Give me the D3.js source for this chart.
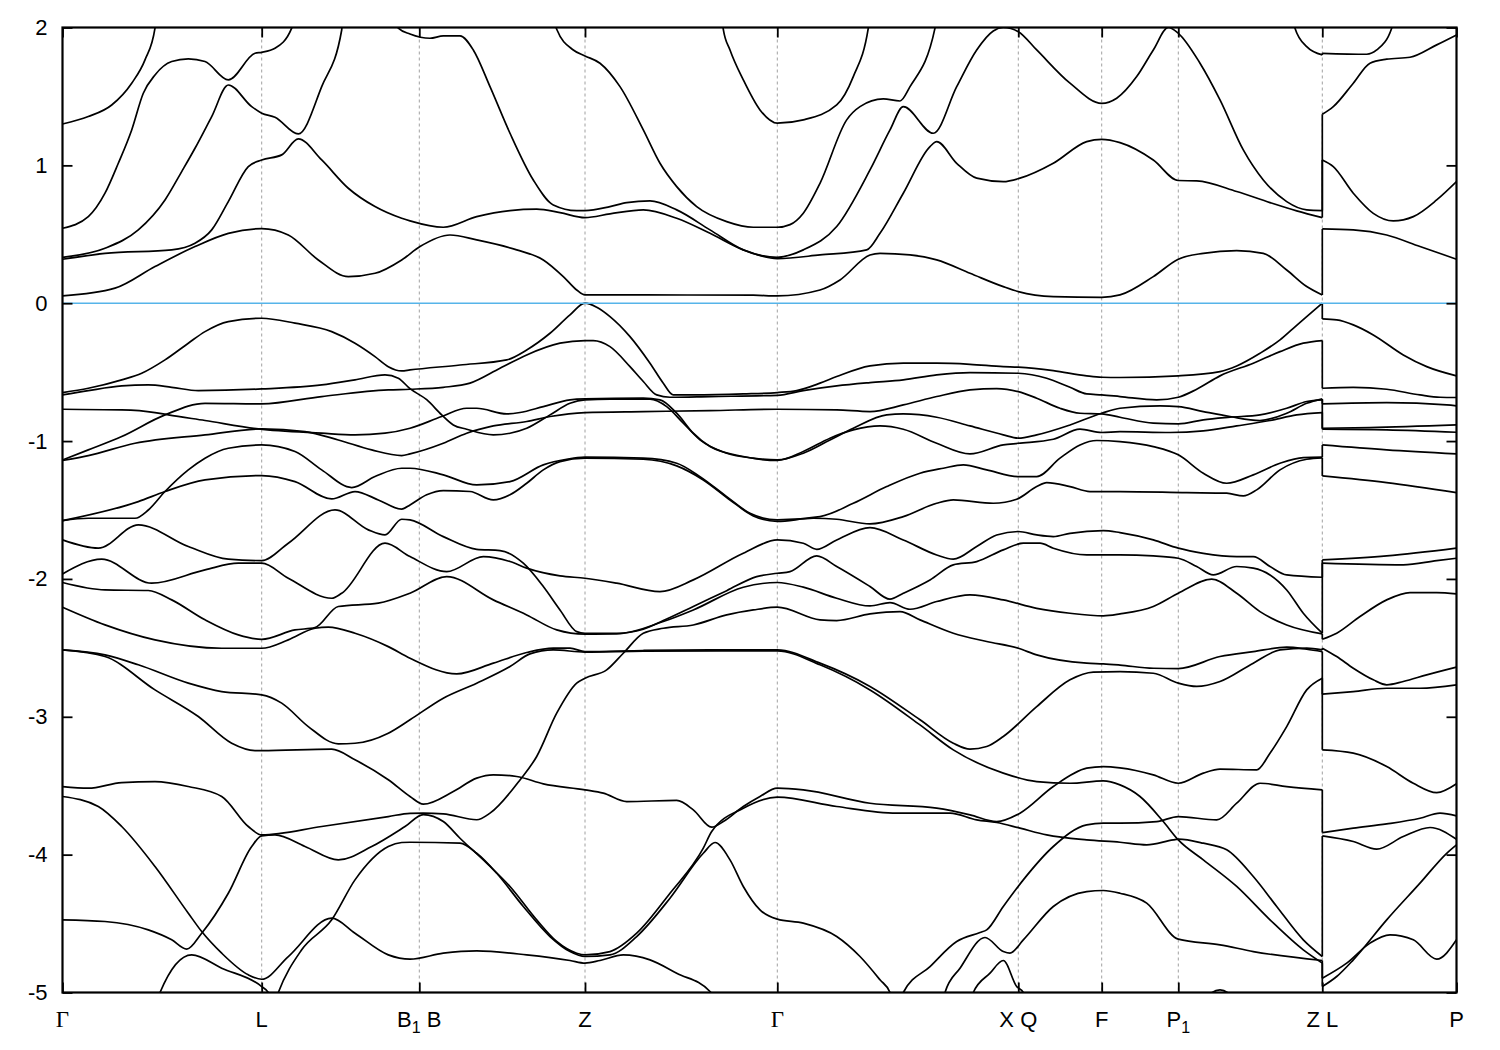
<!DOCTYPE html>
<html><head><meta charset="utf-8">
<script src="https://cdn.jsdelivr.net/npm/d3@7"></script>
<style>body{margin:0;background:#fff}</style>
</head><body><svg id="chart" width="1500" height="1050"></svg>
<script>
// ---- k-path ticks and labels ----
const kTicks = [0, 1.992, 3.568, 5.225, 7.148, 9.558, 10.392, 11.158, 12.598, 13.94];
const kLabels = ["Γ", "L", "B_1 B", "Z", "Γ", "X Q", "F", "P_1", "Z L", "P"];
const eTicks = [-5, -4, -3, -2, -1, 0, 1, 2];

// ---- conduction bands [k, E(eV)] ----
const cb1 = [[0,0.053],[0.525,0.109],[0.925,0.266],[1.325,0.411],[1.658,0.507],[1.992,0.541],[2.258,0.495],[2.558,0.314],[2.858,0.193],[3.125,0.217],[3.392,0.314],[3.575,0.411],[3.875,0.495],[4.142,0.459],[4.542,0.387],[4.808,0.314],[5.008,0.193],[5.142,0.096],[5.225,0.06],[5.808,0.06],[6.908,0.058],[7.148,0.053],[7.575,0.096],[7.775,0.169],[8.075,0.35],[8.175,0.362],[8.475,0.35],[8.742,0.314],[9.075,0.217],[9.408,0.12],[9.558,0.084],[9.908,0.048],[10.392,0.043],[10.575,0.06],[10.908,0.193],[11.158,0.319],[11.408,0.362],[11.742,0.382],[12.008,0.362],[12.242,0.241],[12.442,0.121],[12.598,0.06],[12.598,0.539],[12.908,0.532],[13.242,0.495],[13.575,0.411],[13.94,0.319]];
const cb2 = [[0,0.319],[0.425,0.362],[1.092,0.387],[1.325,0.435],[1.492,0.532],[1.658,0.737],[1.858,0.991],[1.992,1.039],[2.192,1.076],[2.358,1.192],[2.592,1.039],[2.858,0.834],[3.125,0.701],[3.392,0.616],[3.475,0.597],[3.808,0.551],[4.142,0.628],[4.475,0.672],[4.742,0.682],[4.975,0.657],[5.225,0.621],[5.475,0.648],[5.808,0.677],[6.142,0.616],[6.475,0.507],[6.808,0.387],[7.148,0.324],[7.575,0.35],[8.042,0.387],[8.175,0.507],[8.408,0.798],[8.675,1.136],[8.742,1.172],[8.942,1.015],[9.142,0.907],[9.408,0.882],[9.575,0.907],[9.908,1.015],[10.242,1.172],[10.392,1.189],[10.575,1.165],[10.908,1.039],[11.158,0.89],[11.342,0.887],[11.742,0.81],[12.075,0.73],[12.342,0.67],[12.598,0.621],[12.598,1.039],[12.708,0.991],[12.908,0.798],[13.108,0.652],[13.308,0.597],[13.508,0.628],[13.742,0.749],[13.94,0.882]];
const cb3 = [[3.30,2.1],[3.358,1.995],[3.475,1.953],[3.675,1.922],[3.808,1.939],[3.975,1.939],[4.108,1.837],[4.275,1.571],[4.475,1.233],[4.708,0.894],[4.908,0.713],[5.142,0.672],[5.225,0.672],[5.475,0.701],[5.642,0.73],[5.875,0.742],[6.142,0.677],[6.475,0.532],[6.808,0.387],[7.148,0.333],[7.408,0.387],[7.742,0.556],[8.075,0.967],[8.275,1.257],[8.408,1.426],[8.708,1.233],[8.942,1.571],[9.142,1.837],[9.308,1.975],[9.408,2.0],[9.558,1.97],[9.742,1.837],[10.075,1.596],[10.392,1.45],[10.542,1.487],[10.742,1.644],[10.908,1.837],[11.058,2.0],[11.158,1.958],[11.375,1.741],[11.575,1.475],[11.808,1.112],[12.008,0.894],[12.242,0.737],[12.442,0.677],[12.598,0.672],[12.598,1.371],[12.708,1.426],[12.908,1.596],[13.075,1.741],[13.242,1.77],[13.475,1.784],[13.742,1.874],[13.94,1.946]];
const cb4 = [[4.90,2.1],[4.942,1.987],[5.108,1.837],[5.225,1.794],[5.375,1.741],[5.575,1.571],[5.808,1.257],[5.975,1.015],[6.142,0.846],[6.342,0.701],[6.642,0.592],[6.908,0.551],[7.148,0.551],[7.275,0.57],[7.408,0.653],[7.575,0.87],[7.842,1.33],[7.975,1.426],[8.208,1.482],[8.375,1.467],[8.475,1.571],[8.725,1.995],[8.75,2.1]];
const cb5 = [[6.59,2.1],[6.608,1.987],[6.675,1.837],[6.808,1.62],[6.975,1.402],[7.148,1.306],[7.408,1.33],[7.742,1.438],[7.908,1.644],[8.058,1.995],[8.08,2.1]];
const cb6 = [[0,1.30],[0.258,1.354],[0.492,1.438],[0.692,1.596],[0.825,1.765],[0.925,1.995],[0.94,2.1]];
const cb7 = [[0,0.544],[0.258,0.628],[0.425,0.798],[0.558,1.015],[0.692,1.257],[0.808,1.523],[0.925,1.656],[1.092,1.753],[1.258,1.772],[1.425,1.753],[1.658,1.62],[1.925,1.813],[1.992,1.82],[2.125,1.849],[2.292,1.995],[2.32,2.1]];
const cb8 = [[0,0.333],[0.425,0.399],[0.758,0.532],[1.025,0.749],[1.192,0.955],[1.325,1.124],[1.492,1.354],[1.658,1.583],[1.892,1.426],[1.992,1.378],[2.125,1.349],[2.358,1.228],[2.592,1.571],[2.792,1.982],[2.80,2.1]];
const cb9 = [[12.30,2.1],[12.325,1.995],[12.442,1.861],[12.598,1.801],[12.598,1.813],[13.042,1.806],[13.142,1.837],[13.292,1.995],[13.31,2.1]];

// ---- valence bands ----
const vb1 = [[0,-0.648],[0.258,-0.617],[0.592,-0.556],[0.792,-0.508],[1.025,-0.411],[1.258,-0.29],[1.425,-0.206],[1.658,-0.133],[1.992,-0.109],[2.325,-0.145],[2.692,-0.206],[2.925,-0.29],[3.125,-0.387],[3.258,-0.46],[3.392,-0.491],[3.475,-0.484],[3.975,-0.448],[4.442,-0.411],[4.642,-0.339],[4.875,-0.218],[5.075,-0.085],[5.225,0],[5.342,-0.029],[5.475,-0.097],[5.675,-0.242],[5.875,-0.435],[6.008,-0.58],[6.108,-0.665],[6.308,-0.665],[6.808,-0.658],[7.148,-0.648],[7.342,-0.634],[7.575,-0.58],[7.742,-0.532],[8.075,-0.455],[8.408,-0.435],[8.742,-0.435],[9.075,-0.443],[9.408,-0.46],[9.558,-0.464],[9.908,-0.489],[10.242,-0.527],[10.392,-0.537],[10.575,-0.539],[11.158,-0.527],[11.575,-0.496],[11.742,-0.455],[11.975,-0.363],[12.175,-0.266],[12.308,-0.182],[12.442,-0.097],[12.598,0],[12.598,-0.114],[12.742,-0.121],[12.908,-0.157],[13.108,-0.23],[13.408,-0.375],[13.642,-0.46],[13.94,-0.527]];
const vb2 = [[0,-1.137],[0.258,-1.064],[0.592,-0.967],[1.025,-0.81],[1.425,-0.726],[1.992,-0.73],[2.592,-0.677],[3.258,-0.629],[3.475,-0.624],[3.808,-0.61],[4.075,-0.58],[4.375,-0.472],[4.642,-0.375],[4.975,-0.29],[5.225,-0.271],[5.308,-0.271],[5.475,-0.315],[5.675,-0.46],[5.808,-0.568],[5.942,-0.665],[6.075,-0.682],[6.475,-0.677],[7.148,-0.668],[7.408,-0.634],[7.742,-0.6],[8.075,-0.576],[8.408,-0.556],[8.742,-0.52],[9.075,-0.503],[9.558,-0.508],[9.842,-0.544],[10.075,-0.61],[10.242,-0.658],[10.392,-0.665],[10.575,-0.677],[10.942,-0.701],[11.158,-0.682],[11.342,-0.624],[11.575,-0.527],[11.908,-0.435],[12.175,-0.351],[12.408,-0.29],[12.598,-0.271],[12.598,-0.617],[12.908,-0.61],[13.242,-0.624],[13.575,-0.665],[13.775,-0.682],[13.94,-0.684]];
const vb3 = [[0,-0.665],[0.258,-0.634],[0.592,-0.6],[0.858,-0.593],[1.092,-0.61],[1.358,-0.634],[1.992,-0.622],[2.592,-0.593],[2.925,-0.556],[3.225,-0.52],[3.358,-0.544],[3.475,-0.62],[3.642,-0.70],[3.792,-0.81],[3.908,-0.883],[4.042,-0.914],[4.308,-0.955],[4.475,-0.943],[4.642,-0.907],[4.875,-0.81],[5.075,-0.726],[5.225,-0.701],[5.475,-0.696],[5.875,-0.696],[6.042,-0.75],[6.208,-0.87],[6.375,-0.991],[6.642,-1.088],[6.908,-1.124],[7.148,-1.137],[7.408,-1.088],[7.675,-0.992],[7.908,-0.907],[8.242,-0.81],[8.408,-0.803],[8.742,-0.827],[9.075,-0.89],[9.408,-0.955],[9.558,-0.979],[9.742,-0.955],[10.075,-0.883],[10.392,-0.798],[10.575,-0.762],[10.975,-0.745],[11.158,-0.75],[11.408,-0.786],[11.675,-0.822],[11.975,-0.851],[12.242,-0.798],[12.442,-0.726],[12.598,-0.694],[12.598,-0.73],[13.242,-0.721],[13.842,-0.738],[13.94,-0.745]];
const vb4 = [[0,-0.769],[0.592,-0.774],[0.925,-0.793],[1.058,-0.81],[1.425,-0.851],[1.958,-0.912],[2.592,-0.943],[2.925,-0.955],[3.225,-0.943],[3.475,-0.907],[3.792,-0.822],[4.042,-0.762],[4.142,-0.762],[4.442,-0.803],[4.575,-0.793],[4.808,-0.75],[5.075,-0.701],[5.225,-0.694],[5.808,-0.689],[5.975,-0.701],[6.142,-0.798],[6.308,-0.943],[6.475,-1.04],[6.808,-1.112],[7.148,-1.141],[7.408,-1.076],[7.675,-0.979],[7.908,-0.919],[8.175,-0.89],[8.408,-0.914],[8.742,-1.016],[9.075,-1.093],[9.408,-1.028],[9.558,-1.016],[9.908,-0.987],[10.175,-0.914],[10.392,-0.938],[10.575,-0.931],[11.075,-0.938],[11.408,-0.926],[11.742,-0.89],[12.075,-0.851],[12.342,-0.81],[12.598,-0.793],[12.598,-0.914],[13.242,-0.919],[13.94,-0.936]];
const vb5 = [[0,-1.141],[0.258,-1.105],[0.725,-1.016],[1.425,-0.955],[1.992,-0.912],[2.425,-0.931],[2.758,-0.992],[3.092,-1.064],[3.392,-1.105],[3.475,-1.093],[3.808,-1.016],[4.042,-0.943],[4.308,-0.89],[4.642,-0.858],[4.875,-0.822],[5.225,-0.793],[5.808,-0.786],[6.475,-0.779],[7.148,-0.769],[7.742,-0.774],[8.075,-0.786],[8.408,-0.738],[8.742,-0.677],[9.075,-0.629],[9.342,-0.619],[9.558,-0.641],[9.742,-0.689],[9.975,-0.762],[10.175,-0.798],[10.392,-0.803],[10.575,-0.827],[10.908,-0.87],[11.158,-0.875],[11.408,-0.846],[11.675,-0.827],[11.975,-0.81],[12.242,-0.762],[12.442,-0.713],[12.598,-0.701],[12.598,-0.907],[13.075,-0.902],[13.94,-0.883]];
const vb6 = [[0,-1.577],[0.258,-1.56],[0.725,-1.56],[0.858,-1.5],[1.025,-1.366],[1.258,-1.209],[1.425,-1.124],[1.658,-1.052],[1.992,-1.028],[2.325,-1.076],[2.592,-1.209],[2.892,-1.337],[3.125,-1.257],[3.392,-1.197],[3.475,-1.197],[3.808,-1.245],[4.142,-1.318],[4.475,-1.294],[4.808,-1.173],[5.042,-1.132],[5.225,-1.117],[5.808,-1.124],[6.142,-1.161],[6.375,-1.258],[6.642,-1.403],[6.875,-1.524],[7.148,-1.572],[7.575,-1.548],[7.908,-1.451],[8.242,-1.33],[8.575,-1.233],[8.808,-1.197],[9.008,-1.173],[9.242,-1.209],[9.558,-1.258],[9.742,-1.258],[9.975,-1.124],[10.175,-1.028],[10.342,-0.996],[10.575,-1.004],[10.908,-1.04],[11.158,-1.1],[11.408,-1.233],[11.642,-1.306],[11.908,-1.245],[12.175,-1.161],[12.408,-1.12],[12.598,-1.117],[12.598,-1.028],[13.242,-1.064],[13.94,-1.093]];
const vb7 = [[0,-1.577],[0.758,-1.439],[1.025,-1.366],[1.425,-1.282],[1.992,-1.25],[2.325,-1.294],[2.692,-1.42],[2.925,-1.366],[3.158,-1.427],[3.392,-1.494],[3.475,-1.463],[3.642,-1.39],[3.808,-1.359],[4.075,-1.366],[4.308,-1.427],[4.475,-1.39],[4.642,-1.306],[4.808,-1.209],[4.975,-1.149],[5.225,-1.124],[5.808,-1.132],[6.142,-1.18],[6.408,-1.282],[6.675,-1.427],[6.908,-1.543],[7.148,-1.582],[7.508,-1.56],[7.742,-1.567],[8.075,-1.601],[8.408,-1.548],[8.742,-1.451],[8.908,-1.427],[9.308,-1.451],[9.542,-1.422],[9.742,-1.33],[9.842,-1.301],[10.075,-1.33],[10.275,-1.366],[10.575,-1.366],[11.242,-1.374],[11.642,-1.378],[11.808,-1.398],[11.942,-1.354],[12.175,-1.209],[12.442,-1.132],[12.598,-1.122],[12.598,-1.253],[13.242,-1.301],[13.94,-1.374]];
const vb8 = [[0,-1.717],[0.358,-1.777],[0.758,-1.608],[1.258,-1.765],[1.658,-1.857],[1.992,-1.867],[2.258,-1.741],[2.725,-1.499],[3.058,-1.644],[3.225,-1.681],[3.392,-1.567],[3.475,-1.572],[3.808,-1.693],[4.142,-1.785],[4.375,-1.794],[4.608,-1.886],[4.808,-2.055],[4.975,-2.225],[5.142,-2.382],[5.225,-2.394],[5.542,-2.394],[5.808,-2.365],[6.008,-2.302],[6.308,-2.2],[6.642,-2.085],[6.942,-1.983],[7.148,-1.959],[7.275,-1.947],[7.542,-1.833],[7.742,-1.91],[8.075,-2.055],[8.275,-2.147],[8.408,-2.104],[8.675,-2.007],[8.908,-1.898],[9.142,-1.874],[9.408,-1.789],[9.608,-1.741],[9.775,-1.741],[9.908,-1.777],[10.242,-1.826],[10.575,-1.826],[10.908,-1.833],[11.158,-1.85],[11.342,-1.91],[11.508,-1.971],[11.742,-1.91],[11.908,-1.922],[12.075,-1.971],[12.242,-2.08],[12.408,-2.249],[12.598,-2.394],[12.598,-1.886],[13.408,-1.898],[13.742,-1.867],[13.94,-1.85]];
const vb9 = [[0,-1.964],[0.392,-1.857],[0.892,-2.031],[1.425,-1.934],[1.758,-1.886],[1.992,-1.886],[2.258,-1.995],[2.692,-2.14],[2.792,-2.104],[3.225,-1.741],[3.475,-1.838],[3.842,-1.947],[4.208,-1.838],[4.475,-1.874],[4.642,-1.922],[4.975,-1.978],[5.225,-1.995],[5.542,-2.031],[5.975,-2.092],[6.308,-2.007],[6.808,-1.814],[7.148,-1.717],[7.408,-1.741],[7.542,-1.785],[7.742,-1.717],[8.075,-1.628],[8.408,-1.717],[8.742,-1.826],[8.908,-1.857],[9.142,-1.765],[9.342,-1.681],[9.558,-1.656],[9.742,-1.681],[9.908,-1.693],[10.075,-1.669],[10.408,-1.649],[10.575,-1.664],[10.908,-1.717],[11.158,-1.777],[11.408,-1.814],[11.742,-1.838],[11.908,-1.838],[12.075,-1.91],[12.242,-1.971],[12.598,-1.988],[12.598,-1.862],[13.242,-1.833],[13.94,-1.777]];
const vb10 = [[0,-2.026],[0.425,-2.08],[0.858,-2.084],[1.092,-2.152],[1.425,-2.297],[1.758,-2.406],[1.992,-2.438],[2.325,-2.37],[2.525,-2.353],[2.758,-2.2],[3.158,-2.176],[3.475,-2.104],[3.842,-1.983],[4.308,-2.152],[4.642,-2.261],[4.942,-2.37],[5.225,-2.401],[5.542,-2.399],[6.008,-2.309],[6.308,-2.225],[6.808,-2.06],[7.148,-2.026],[7.408,-2.06],[7.742,-2.14],[8.075,-2.196],[8.275,-2.172],[8.475,-2.22],[8.742,-2.164],[9.075,-2.116],[9.408,-2.152],[9.742,-2.213],[10.075,-2.249],[10.408,-2.268],[10.575,-2.254],[10.908,-2.2],[11.158,-2.104],[11.492,-2.002],[11.742,-2.104],[11.975,-2.237],[12.242,-2.334],[12.598,-2.399],[12.598,-2.438],[12.742,-2.394],[12.975,-2.273],[13.242,-2.152],[13.475,-2.099],[13.742,-2.099],[13.94,-2.109]];
const vb11 = [[0,-2.205],[0.425,-2.333],[0.925,-2.442],[1.592,-2.503],[1.992,-2.503],[2.258,-2.442],[2.525,-2.358],[2.658,-2.35],[2.925,-2.394],[3.258,-2.491],[3.475,-2.575],[3.942,-2.689],[4.308,-2.611],[4.642,-2.534],[4.908,-2.502],[5.075,-2.502],[5.225,-2.527],[5.808,-2.519],[6.475,-2.515],[7.148,-2.515],[7.575,-2.611],[8.075,-2.78],[8.575,-3.022],[8.908,-3.192],[9.075,-3.235],[9.242,-3.216],[9.408,-3.143],[9.742,-2.926],[10.075,-2.732],[10.308,-2.676],[10.575,-2.672],[10.908,-2.684],[11.158,-2.756],[11.342,-2.78],[11.575,-2.744],[11.908,-2.611],[12.175,-2.515],[12.442,-2.502],[12.598,-2.515],[12.598,-2.502],[12.742,-2.563],[12.908,-2.648],[13.108,-2.732],[13.242,-2.768],[13.408,-2.744],[13.642,-2.696],[13.94,-2.64]];
const vb12 = [[0,-2.515],[0.425,-2.551],[0.758,-2.623],[1.258,-2.756],[1.592,-2.817],[1.992,-2.841],[2.192,-2.901],[2.458,-3.071],[2.758,-3.196],[2.925,-3.192],[3.258,-3.119],[3.475,-3.022],[3.808,-2.865],[4.142,-2.756],[4.475,-2.635],[4.675,-2.544],[4.908,-2.515],[5.225,-2.531],[5.808,-2.524],[7.148,-2.522],[7.575,-2.623],[8.075,-2.805],[8.575,-3.059],[8.908,-3.24],[9.408,-3.409],[9.742,-3.47],[10.075,-3.482],[10.408,-3.465],[10.575,-3.494],[10.775,-3.578],[11.008,-3.76],[11.158,-3.893],[11.408,-4.038],[11.742,-4.231],[12.075,-4.473],[12.408,-4.691],[12.598,-4.787],[12.598,-4.957],[12.742,-4.884],[12.908,-4.763],[13.242,-4.473],[13.575,-4.207],[13.842,-3.99],[13.94,-3.929]];
const vb13 = [[0,-2.515],[0.425,-2.563],[0.925,-2.805],[1.358,-2.998],[1.692,-3.192],[1.925,-3.245],[1.992,-3.245],[2.692,-3.235],[2.925,-3.312],[3.258,-3.457],[3.475,-3.578],[3.608,-3.634],[3.908,-3.542],[4.142,-3.445],[4.308,-3.421],[4.542,-3.433],[4.808,-3.487],[5.225,-3.53],[5.408,-3.554],[5.642,-3.615],[6.142,-3.607],[6.308,-3.675],[6.492,-3.801],[6.608,-3.76],[6.808,-3.651],[6.975,-3.578],[7.148,-3.518],[7.408,-3.53],[8.075,-3.627],[8.742,-3.663],[9.075,-3.711],[9.342,-3.76],[9.575,-3.699],[9.908,-3.506],[10.242,-3.373],[10.408,-3.361],[10.575,-3.37],[10.908,-3.421],[11.158,-3.482],[11.408,-3.409],[11.575,-3.38],[11.942,-3.385],[12.075,-3.264],[12.242,-3.071],[12.442,-2.805],[12.598,-2.72],[12.598,-3.24],[12.908,-3.264],[13.242,-3.361],[13.508,-3.482],[13.742,-3.55],[13.94,-3.486]];
const vb14 = [[0,-3.506],[0.258,-3.518],[0.592,-3.477],[0.925,-3.47],[1.258,-3.506],[1.592,-3.578],[1.858,-3.796],[1.992,-3.857],[2.592,-3.796],[3.258,-3.724],[3.475,-3.70],[3.608,-3.699],[3.808,-3.704],[4.142,-3.747],[4.275,-3.699],[4.575,-3.458],[4.742,-3.288],[4.942,-2.974],[5.142,-2.756],[5.225,-2.72],[5.442,-2.66],[5.608,-2.539],[5.808,-2.394],[6.008,-2.358],[6.308,-2.334],[6.642,-2.261],[6.908,-2.225],[7.148,-2.205],[7.575,-2.297],[7.742,-2.302],[8.075,-2.254],[8.375,-2.237],[8.575,-2.297],[8.908,-2.394],[9.242,-2.454],[9.558,-2.503],[9.742,-2.551],[10.242,-2.611],[10.408,-2.616],[10.575,-2.625],[10.908,-2.648],[11.158,-2.65],[11.575,-2.563],[11.908,-2.527],[12.242,-2.495],[12.442,-2.51],[12.598,-2.527],[12.598,-2.836],[12.908,-2.817],[13.242,-2.793],[13.575,-2.793],[13.94,-2.768]];
const vb15 = [[0,-4.473],[0.425,-4.485],[0.858,-4.546],[1.092,-4.618],[1.242,-4.686],[1.392,-4.57],[1.658,-4.28],[1.892,-3.941],[1.992,-3.864],[2.125,-3.857],[2.425,-3.941],[2.758,-4.038],[3.092,-3.941],[3.425,-3.796],[3.608,-3.709],[3.808,-3.76],[3.975,-3.881],[4.242,-4.062],[4.475,-4.231],[4.742,-4.473],[4.942,-4.63],[5.142,-4.715],[5.225,-4.727],[5.475,-4.703],[5.742,-4.57],[6.075,-4.28],[6.408,-3.953],[6.492,-3.832],[6.808,-3.663],[7.148,-3.583],[7.742,-3.651],[8.342,-3.699],[8.875,-3.699],[9.142,-3.748],[9.342,-3.767],[9.575,-3.808],[9.842,-3.857],[10.242,-3.893],[10.575,-3.91],[10.842,-3.929],[11.108,-3.893],[11.158,-3.888],[11.408,-3.917],[11.642,-3.965],[11.908,-4.159],[12.142,-4.376],[12.408,-4.618],[12.598,-4.739],[12.598,-3.864],[12.908,-3.905],[13.142,-3.96],[13.408,-3.869],[13.675,-3.803],[13.94,-3.888]];
const vb16 = [[2.10,-5.12],[2.158,-5.0],[2.392,-4.69],[2.692,-4.473],[2.925,-4.183],[3.258,-3.941],[3.392,-3.912],[3.475,-3.91],[3.975,-3.917],[4.142,-3.99],[4.342,-4.135],[4.608,-4.376],[4.875,-4.594],[5.075,-4.703],[5.225,-4.739],[5.475,-4.727],[5.742,-4.594],[6.075,-4.316],[6.408,-3.99],[6.525,-3.912],[6.675,-4.038],[6.808,-4.231],[6.975,-4.401],[7.148,-4.468],[7.408,-4.497],[7.742,-4.594],[7.975,-4.739],[8.175,-4.908],[8.275,-5.0],[8.32,-5.1]];
const vb17 = [[0,-3.578],[0.358,-3.651],[0.592,-3.796],[0.925,-4.086],[1.258,-4.425],[1.392,-4.558],[1.592,-4.715],[1.858,-4.872],[1.992,-4.904],[2.258,-4.739],[2.692,-4.461],[2.925,-4.57],[3.258,-4.727],[3.475,-4.758],[3.808,-4.715],[4.142,-4.698],[4.642,-4.727],[5.075,-4.768],[5.225,-4.787],[5.375,-4.768],[5.608,-4.727],[5.875,-4.763],[6.142,-4.86],[6.475,-4.993],[6.55,-5.1]];
const vb18 = [[0.94,-5.1],[0.975,-5.0],[1.292,-4.727],[1.592,-4.824],[1.992,-4.957],[2.058,-5.0],[2.09,-5.1]];
const vb19 = [[8.37,-5.1],[8.408,-5.0],[8.675,-4.812],[8.942,-4.63],[9.175,-4.565],[9.242,-4.546],[9.408,-4.376],[9.608,-4.183],[9.908,-3.941],[10.242,-3.784],[10.408,-3.772],[10.575,-3.772],[10.942,-3.76],[11.158,-3.724],[11.542,-3.748],[11.742,-3.627],[11.975,-3.482],[12.242,-3.506],[12.598,-3.53],[12.598,-3.84],[12.908,-3.808],[13.242,-3.777],[13.575,-3.736],[13.775,-3.699],[13.94,-3.719]];
const vb20 = [[8.79,-5.1],[8.825,-5.0],[8.975,-4.824],[9.225,-4.601],[9.408,-4.703],[9.475,-4.715],[9.608,-4.618],[9.908,-4.376],[10.242,-4.268],[10.408,-4.26],[10.575,-4.28],[10.842,-4.352],[11.158,-4.613],[11.575,-4.654],[11.908,-4.703],[12.598,-4.768],[12.598,-4.896],[12.842,-4.787],[13.075,-4.642],[13.275,-4.582],[13.508,-4.618],[13.742,-4.758],[13.94,-4.618]];
const vb21 = [[9.07,-5.1],[9.108,-5.0],[9.275,-4.86],[9.408,-4.768],[9.542,-4.957],[9.608,-5.0],[9.63,-5.1]];
const vb22 = [[11.40,-5.05],[11.575,-4.981],[11.74,-5.05]];

const bands = [cb1,cb2,cb3,cb4,cb5,cb6,cb7,cb8,cb9,
  vb1,vb2,vb3,vb4,vb5,vb6,vb7,vb8,vb9,vb10,vb11,vb12,vb13,vb14,vb15,vb16,vb17,vb18,vb19,vb20,vb21,vb22];

// ---- drawing ----
const m = {l:62.5, r:1456.5, t:27.5, b:992.5};
const x = d3.scaleLinear().domain([0, 13.94]).range([m.l, m.r]);
const y = d3.scaleLinear().domain([-5, 2]).range([m.b, m.t]);
const svg = d3.select('#chart');
const FONT = "'Liberation Sans', Arial, Helvetica, sans-serif";

svg.append('defs').append('clipPath').attr('id','clip')
  .append('rect').attr('x',m.l).attr('y',m.t).attr('width',m.r-m.l).attr('height',m.b-m.t);

// dashed vertical separators
svg.append('g').selectAll('line').data(kTicks.slice(1,-1)).join('line')
  .attr('x1',d=>x(d)).attr('x2',d=>x(d)).attr('y1',m.t).attr('y2',m.b)
  .attr('stroke','#a0a0a0').attr('stroke-width',1).attr('stroke-dasharray','3,3');

// bands
const gB = svg.append('g').attr('clip-path','url(#clip)');
const line = d3.line().x(d=>x(d[0])).y(d=>y(d[1])).curve(d3.curveMonotoneX);
bands.forEach(b => {
  let seg = [b[0]];
  const segs = [], jumps = [];
  for (let i=1;i<b.length;i++){
    if (b[i][0] === b[i-1][0]) { segs.push(seg); jumps.push([b[i-1], b[i]]); seg=[b[i]]; }
    else seg.push(b[i]);
  }
  segs.push(seg);
  segs.forEach(s => { if (s.length>1) gB.append('path').attr('d', line(s))
      .attr('fill','none').attr('stroke','#000').attr('stroke-width',1.7).attr('stroke-linejoin','round'); });
  jumps.forEach(j => gB.append('path').attr('d', d3.line().x(d=>x(d[0])).y(d=>y(d[1]))(j))
      .attr('fill','none').attr('stroke','#000').attr('stroke-width',1.7));
});

// zero (Fermi) line
svg.append('line').attr('x1',x(0)).attr('x2',x(13.94)).attr('y1',y(0)).attr('y2',y(0))
  .attr('stroke','#56b4e9').attr('stroke-width',1.6);

// axes (ticks inward)
const ax = (g) => g.call(s=>s.select('.domain').remove());
svg.append('g').attr('transform',`translate(${m.l},0)`)
  .call(d3.axisLeft(y).tickValues(eTicks).tickSize(-10).tickPadding(15).tickFormat(d3.format('d')))
  .call(ax)
  .call(g=>g.selectAll('line').attr('stroke','#000').attr('stroke-width',1.8))
  .call(g=>g.selectAll('text').attr('font-size',22).attr('font-family',FONT).attr('fill','#000').text(d=>d<0?'-'+Math.abs(d):String(d)));
svg.append('g').attr('transform',`translate(${m.r},0)`)
  .call(d3.axisRight(y).tickValues(eTicks).tickSize(-10).tickFormat(''))
  .call(ax).call(g=>g.selectAll('line').attr('stroke','#000').attr('stroke-width',1.8));
svg.append('g').attr('transform',`translate(0,${m.b})`)
  .call(d3.axisBottom(x).tickValues(kTicks).tickSize(-10).tickFormat(''))
  .call(ax).call(g=>g.selectAll('line').attr('stroke','#000').attr('stroke-width',1.8));
svg.append('g').attr('transform',`translate(0,${m.t})`)
  .call(d3.axisTop(x).tickValues(kTicks).tickSize(-10).tickFormat(''))
  .call(ax).call(g=>g.selectAll('line').attr('stroke','#000').attr('stroke-width',1.8));

// frame
svg.append('rect').attr('x',m.l).attr('y',m.t).attr('width',m.r-m.l).attr('height',m.b-m.t)
  .attr('fill','none').attr('stroke','#000').attr('stroke-width',2.2);

// k-point labels
kLabels.forEach((lab, i) => {
  const t = svg.append('text').attr('x', x(kTicks[i])).attr('y', 1027)
    .attr('text-anchor','middle').attr('font-size',22).attr('fill','#000').attr('font-family',FONT);
  const parts = lab.split(/(_\d)/).filter(p=>p.length);
  let shifted = false;
  parts.forEach(p => {
    if (p.startsWith('_')) {
      t.append('tspan').attr('font-size',16).attr('dy',6).text(p.slice(1));
      shifted = true;
    } else {
      const ts = t.append('tspan').text(p);
      if (shifted) { ts.attr('dy',-6); shifted = false; }
      if (p === 'Γ') ts.attr('font-family',"'Liberation Serif','Times New Roman',serif").attr('font-size',23);
    }
  });
});
</script></body></html>
